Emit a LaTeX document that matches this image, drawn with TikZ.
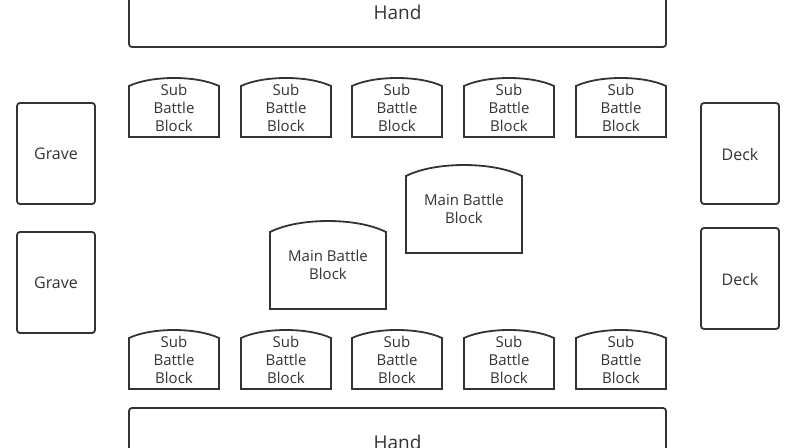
\documentclass[tikz,border=0pt]{standalone}
\usepackage{fontspec}
\setmainfont{Open Sans}
\definecolor{ink}{HTML}{333333}
\tikzset{
  frame/.style={draw=ink, line width=1.8pt, rounded corners=3pt},
  arch/.style={draw=ink, line width=1.8pt},
  lbl/.style={text=ink, font=\fontsize{15pt}{18pt}\selectfont, align=center, inner sep=0pt},
  sidelbl/.style={text=ink, font=\fontsize{16pt}{18pt}\selectfont, inner sep=0pt},
  biglbl/.style={text=ink, font=\fontsize{19pt}{22pt}\selectfont, inner sep=0pt},
}
% arch box: #1 name, #2 x1, #3 x2, #4 peak y, #5 corner y, #6 bottom y, #7 text
\newcommand\archbox[7]{%
  \draw[arch] (#2,#6) -- (#2,#5)
    .. controls ({#2+(#3-#2)/4},{#5-(#5-#4)*4/3}) and ({#3-(#3-#2)/4},{#5-(#5-#4)*4/3}) .. (#3,#5)
    -- (#3,#6) -- cycle;
  \node[lbl] (#1) at ({(#2+#3)/2},{(#4+#6)/2}) {#7};
}
\begin{document}
\begin{tikzpicture}[x=1pt,y=-1pt]
\useasboundingbox (0,0) rectangle (794,447);
% hands
\draw[frame] (129,-22) rectangle (666,47);
\node[biglbl] (handtop) at (397.5,12.5) {Hand};
\draw[frame] (129,408) rectangle (666,477);
\node[biglbl] (handbot) at (397.5,442) {Hand};
% graves
\draw[frame] (17,103) rectangle (95,204);
\node[sidelbl] (grave1) at (56,154) {Grave};
\draw[frame] (17,232) rectangle (95,333);
\node[sidelbl] (grave2) at (56,283) {Grave};
% decks
\draw[frame] (701,103) rectangle (779,204);
\node[sidelbl] (deck1) at (740,154) {Deck};
\draw[frame] (701,228) rectangle (779,329);
\node[sidelbl] (deck2) at (740,279) {Deck};
% sub battle blocks top
\archbox{st1}{129}{219}{78}{86}{137}{Sub\\Battle\\Block}
\archbox{st2}{241}{331}{78}{86}{137}{Sub\\Battle\\Block}
\archbox{st3}{352}{442}{78}{86}{137}{Sub\\Battle\\Block}
\archbox{st4}{464}{554}{78}{86}{137}{Sub\\Battle\\Block}
\archbox{st5}{576}{666}{78}{86}{137}{Sub\\Battle\\Block}
% sub battle blocks bottom
\archbox{sb1}{129}{219}{330}{338}{389}{Sub\\Battle\\Block}
\archbox{sb2}{241}{331}{330}{338}{389}{Sub\\Battle\\Block}
\archbox{sb3}{352}{442}{330}{338}{389}{Sub\\Battle\\Block}
\archbox{sb4}{464}{554}{330}{338}{389}{Sub\\Battle\\Block}
\archbox{sb5}{576}{666}{330}{338}{389}{Sub\\Battle\\Block}
% main battle blocks
\archbox{main1}{270}{386}{221}{232}{309}{Main Battle\\Block}
\archbox{main2}{406}{522}{165}{176}{253}{Main Battle\\Block}
\end{tikzpicture}
\end{document}
